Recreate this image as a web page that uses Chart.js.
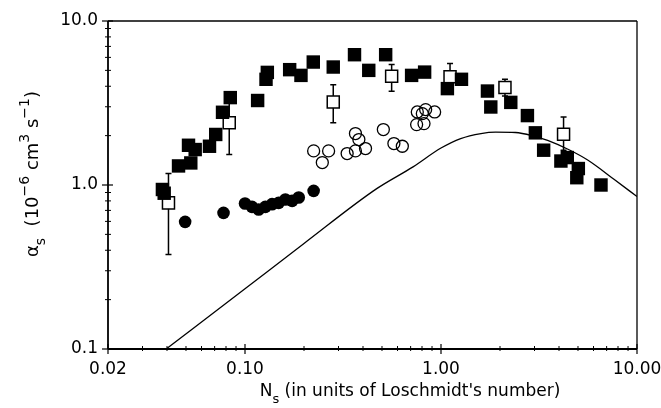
<!DOCTYPE html>
<html>
<head>
<meta charset="utf-8">
<script src="https://cdn.jsdelivr.net/npm/chart.js@4"></script>
<style>
  body { margin: 0; background: #fff; }
</style>
</head>
<body>
<canvas id="chart" width="661" height="408"></canvas>
<script>
// filled squares
const sqX = [0.0379, 0.0387, 0.0458, 0.0529, 0.0515, 0.0557, 0.0659, 0.0709, 0.0768, 0.0841,
  0.116, 0.130, 0.128, 0.169, 0.193, 0.223, 0.282, 0.362, 0.428, 0.522,
  0.708, 0.825, 1.078, 1.272, 1.726, 1.795, 2.27, 2.76, 3.03, 3.34,
  4.09, 4.41, 5.02, 4.93, 6.55]
const sqY = [0.939, 0.891, 1.307, 1.363, 1.747, 1.645, 1.723, 2.033, 2.776, 3.411,
  3.275, 4.86, 4.41, 5.05, 4.66, 5.62, 5.24, 6.23, 5.00, 6.23,
  4.66, 4.88, 3.87, 4.41, 3.74, 2.99, 3.19, 2.65, 2.08, 1.63,
  1.40, 1.47, 1.26, 1.108, 1.00]

// open squares with error bars
const osX = [0.0407, 0.0831, 0.282, 0.560, 1.112, 2.12, 4.22]
const osY = [0.778, 2.395, 3.21, 4.60, 4.57, 3.93, 2.04]
const osLow = [0.377, 1.534, 2.40, 3.73, 3.80, 3.49, 1.63]
const osHigh = [1.175, 3.52, 4.09, 5.42, 5.50, 4.41, 2.60]

// filled circles
const fcX = [0.0495, 0.0777, 0.100, 0.1086, 0.1174, 0.127, 0.1374, 0.1485, 0.1607, 0.174, 0.188, 0.224]
const fcY = [0.596, 0.676, 0.772, 0.736, 0.709, 0.736, 0.764, 0.778, 0.816, 0.800, 0.839, 0.921]

// open circles
const ocX = [0.224, 0.267, 0.248, 0.332, 0.366, 0.381, 0.366, 0.412, 0.508, 0.575, 0.635,
  0.757, 0.835, 0.928, 0.803, 0.751, 0.819]
const ocY = [1.614, 1.614, 1.371, 1.555, 2.06, 1.893, 1.614, 1.668, 2.178, 1.789, 1.723,
  2.788, 2.883, 2.788, 2.725, 2.335, 2.368]

// theory curve
const lnX = [0.0396, 0.1, 0.2, 0.47, 0.72, 1.0, 1.26, 1.6, 1.9, 2.4, 3.0, 3.5, 4.5, 5.6, 7.66, 10]
const lnY = [0.1, 0.233, 0.44, 0.95, 1.29, 1.68, 1.92, 2.06, 2.1, 2.09, 1.98, 1.87, 1.64, 1.42, 1.08, 0.85]

const xTicks = [0.02, 0.1, 1, 10]
const xTickLabels = ['0.02', '0.10', '1.00', '10.00']
const yTicks = [0.1, 1, 10]
const yTickLabels = ['0.1', '1.0', '10.0']

const pts = (xs, ys) => xs.map((x, i) => ({ x: x, y: ys[i] }))
const FONT = 'DejaVu Sans'

// frame, inside/outside ticks
const frame = {
  id: 'frame',
  afterDraw(chart) {
    const { ctx, chartArea: a, scales: { x, y } } = chart
    const seg = (x1, y1, x2, y2) => { ctx.beginPath(); ctx.moveTo(x1, y1); ctx.lineTo(x2, y2); ctx.stroke() }
    ctx.save()
    ctx.strokeStyle = '#000'
    ctx.lineWidth = 1.3
    seg(a.left, a.top, a.right, a.top)
    seg(a.right, a.top, a.right, a.bottom)
    ctx.lineWidth = 1.8
    seg(a.left, a.top, a.left, a.bottom)
    seg(a.left, a.bottom, a.right, a.bottom)
    ctx.lineWidth = 1
    for (let d = 0.1; d < 10; d *= 10) {
      for (let k = 2; k <= 9; k++) {
        const p = y.getPixelForValue(d * k)
        seg(a.left - 3, p, a.left + 3, p)
      }
    }
    for (let d = 0.01; d < 10; d *= 10) {
      for (let k = 2; k <= 9; k++) {
        const v = d * k
        if (v <= 0.02 || v >= 10) continue
        const p = x.getPixelForValue(v)
        seg(p, a.bottom - 3, p, a.bottom + 2)
      }
    }
    ctx.lineWidth = 1.2
    yTicks.forEach(v => { const p = y.getPixelForValue(v); seg(a.left - 6, p, a.left + 5, p) })
    xTicks.forEach(v => { const p = x.getPixelForValue(v); seg(p, a.bottom - 5, p, a.bottom + 5) })
    ctx.restore()
  }
}

// vertical error bars for the open squares
const errorBars = {
  id: 'errorBars',
  beforeDatasetsDraw(chart) {
    const { ctx, scales: { x, y } } = chart
    ctx.save()
    ctx.strokeStyle = '#000'
    ctx.lineWidth = 1.5
    osX.forEach((v, i) => {
      const px = x.getPixelForValue(v)
      const lo = y.getPixelForValue(osLow[i])
      const hi = y.getPixelForValue(osHigh[i])
      ctx.beginPath()
      ctx.moveTo(px, lo); ctx.lineTo(px, hi)
      ctx.moveTo(px - 3, lo); ctx.lineTo(px + 3, lo)
      ctx.moveTo(px - 3, hi); ctx.lineTo(px + 3, hi)
      ctx.stroke()
    })
    ctx.restore()
  }
}

// axis titles with sub/superscripts
function drawRich(ctx, parts, size) {
  const small = Math.round(size * 0.75)
  let w = 0
  parts.forEach(p => {
    ctx.font = (p.sub || p.sup ? small : size) + 'px "' + FONT + '"'
    p.w = ctx.measureText(p.t).width
    w += p.w
  })
  let cx = -w / 2
  parts.forEach(p => {
    ctx.font = (p.sub || p.sup ? small : size) + 'px "' + FONT + '"'
    const dy = p.sub ? size * 0.4 : p.sup ? -size * 0.5 : 0
    ctx.fillText(p.t, cx, dy)
    cx += p.w
  })
}

const titles = {
  id: 'titles',
  afterDraw(chart) {
    const { ctx } = chart
    ctx.save()
    ctx.fillStyle = '#000'
    ctx.textBaseline = 'alphabetic'
    ctx.textAlign = 'left'
    ctx.save()
    ctx.translate(410, 396)
    drawRich(ctx, [{ t: 'N' }, { t: 's', sub: true }, { t: ' (in units of Loschmidt\'s number)' }], 17)
    ctx.restore()
    ctx.save()
    ctx.translate(38, 174)
    ctx.rotate(-Math.PI / 2)
    drawRich(ctx, [{ t: '\u03b1' }, { t: 's', sub: true }, { t: '  (10' }, { t: '\u22126', sup: true },
      { t: ' cm' }, { t: '3', sup: true }, { t: ' s' }, { t: '\u22121', sup: true }, { t: ')' }], 18)
    ctx.restore()
    ctx.restore()
  }
}

new Chart(document.getElementById('chart'), {
  type: 'scatter',
  data: {
    datasets: [
      { data: pts(sqX, sqY), pointStyle: 'rect', pointRadius: 9.5, backgroundColor: '#000', borderColor: '#000', borderWidth: 0 },
      { data: pts(osX, osY), pointStyle: 'rect', pointRadius: 8.5, backgroundColor: '#fff', borderColor: '#000', borderWidth: 1.5 },
      { data: pts(fcX, fcY), pointStyle: 'circle', pointRadius: 6.3, backgroundColor: '#000', borderColor: '#000', borderWidth: 0 },
      { data: pts(ocX, ocY), pointStyle: 'circle', pointRadius: 6, backgroundColor: 'rgba(0,0,0,0)', borderColor: '#000', borderWidth: 1.3 },
      { data: pts(lnX, lnY), showLine: true, pointRadius: 0, borderColor: '#000', borderWidth: 1.3, cubicInterpolationMode: 'monotone' }
    ]
  },
  options: {
    responsive: false,
    animation: false,
    devicePixelRatio: 1,
    layout: { padding: { top: 21, right: 24, left: 0, bottom: 0 } },
    plugins: { legend: { display: false }, tooltip: { enabled: false } },
    scales: {
      x: {
        type: 'logarithmic', min: 0.02, max: 10,
        grid: { display: false, drawTicks: false },
        border: { display: false },
        afterBuildTicks: s => { s.ticks = xTicks.map(v => ({ value: v })) },
        afterFit: s => { s.height = 59; s.paddingLeft = 0; s.paddingRight = 0 },
        ticks: {
          autoSkip: false, maxRotation: 0, padding: 10, color: '#000',
          font: { family: FONT, size: 17 },
          callback: (v, i) => xTickLabels[i]
        }
      },
      y: {
        type: 'logarithmic', min: 0.1, max: 10,
        grid: { display: false, drawTicks: false },
        border: { display: false },
        afterBuildTicks: s => { s.ticks = yTicks.map(v => ({ value: v })) },
        afterFit: s => { s.width = 108; s.paddingTop = 0; s.paddingBottom = 0 },
        ticks: {
          autoSkip: false, padding: 10, color: '#000',
          font: { family: FONT, size: 17 },
          callback: (v, i) => yTickLabels[i]
        }
      }
    }
  },
  plugins: [frame, errorBars, titles]
})
</script>
</body>
</html>
